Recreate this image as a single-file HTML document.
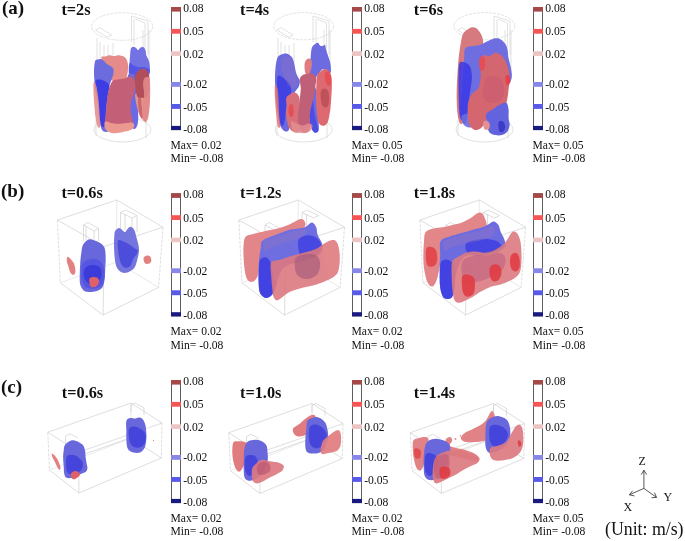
<!DOCTYPE html>
<html><head><meta charset="utf-8"><style>
html,body{margin:0;padding:0;background:#fff;}
body{width:685px;height:541px;overflow:hidden;position:relative;}
svg{position:absolute;left:0;top:0;will-change:transform;}
text{font-family:"Liberation Serif",serif;fill:#111;}
.cb{font-size:11.6px;}
.mm{font-size:11.6px;}
.tl{font-size:16.3px;font-weight:bold;}
.pl{font-size:19px;font-weight:bold;}
.ax{font-size:12px;}
.un{font-size:17.8px;}
</style></head><body>
<svg width="685" height="541" viewBox="0 0 685 541">
<defs><filter id="sb" x="-10%" y="-10%" width="120%" height="120%"><feGaussianBlur stdDeviation="0.45"/></filter></defs>
<g fill="none" stroke="#cfcfcf" stroke-width="0.6"><ellipse cx="122.2" cy="26.5" rx="30.5" ry="13.8" stroke-dasharray="3 1"/><ellipse cx="122.4" cy="129.5" rx="28.5" ry="12.5"/><path d="M131.5,16 V42 M131.5,16 L148,21 V55 M134,19 V45 M95.5,30 L100,27.7 L111.6,35 L107.2,37.2 Z M135.5,19 L145,23 V55 M97,38 V72 M100,42 V75 M104,45 V70 M108,45 V70 M113,43 V70 M143,30 V70 M149,30 V70 M96,120 V136 M146,116 V138"/></g>
<g filter="url(#sb)"><g transform="translate(80,40) scale(0.19410)"><path d="M110,88 C112.0,82.2 123.3,86.7 130,85 C136.7,83.3 142.5,78.5 150,78 C157.5,77.5 166.7,82.0 175,82 C183.3,82.0 191.7,77.5 200,78 C208.3,78.5 218.3,81.3 225,85 C231.7,88.7 236.2,92.5 240,100 C243.8,107.5 247.0,119.2 248,130 C249.0,140.8 247.3,155.0 246,165 C244.7,175.0 243.5,182.5 240,190 C236.5,197.5 231.7,205.3 225,210 C218.3,214.7 208.3,217.7 200,218 C191.7,218.3 183.3,215.0 175,212 C166.7,209.0 158.3,207.0 150,200 C141.7,193.0 130.3,183.3 125,170 C119.7,156.7 120.5,133.7 118,120 C115.5,106.3 108.0,93.8 110,88 Z" fill="#e68a8a" fill-opacity="1.0"/><path d="M78,108 C81.3,98.0 86.7,101.7 92,100 C97.3,98.3 104.5,96.3 110,98 C115.5,99.7 120.0,105.5 125,110 C130.0,114.5 133.7,120.3 140,125 C146.3,129.7 157.7,133.8 163,138 C168.3,142.2 170.5,143.8 172,150 C173.5,156.2 173.7,165.8 172,175 C170.3,184.2 165.3,195.0 162,205 C158.7,215.0 154.8,225.0 152,235 C149.2,245.0 147.0,254.2 145,265 C143.0,275.8 141.5,287.5 140,300 C138.5,312.5 137.0,326.7 136,340 C135.0,353.3 134.7,366.7 134,380 C133.3,393.3 129.3,407.5 132,420 C134.7,432.5 147.8,446.3 150,455 C152.2,463.7 150.0,469.5 145,472 C140.0,474.5 126.2,473.7 120,470 C113.8,466.3 111.3,460.0 108,450 C104.7,440.0 102.3,428.3 100,410 C97.7,391.7 96.7,361.7 94,340 C91.3,318.3 87.0,298.3 84,280 C81.0,261.7 78.0,250.0 76,230 C74.0,210.0 71.7,180.3 72,160 C72.3,139.7 74.7,118.0 78,108 Z" fill="#6c6cde" fill-opacity="1.0"/><path d="M80,210 C83.7,200.8 100.0,203.3 110,205 C120.0,206.7 133.0,214.2 140,220 C147.0,225.8 151.2,230.0 152,240 C152.8,250.0 147.3,265.0 145,280 C142.7,295.0 139.8,313.3 138,330 C136.2,346.7 135.0,363.3 134,380 C133.0,396.7 134.3,418.3 132,430 C129.7,441.7 124.3,450.0 120,450 C115.7,450.0 109.3,441.7 106,430 C102.7,418.3 101.7,398.3 100,380 C98.3,361.7 98.0,340.0 96,320 C94.0,300.0 90.7,278.3 88,260 C85.3,241.7 76.3,219.2 80,210 Z" fill="#3a3ae4" fill-opacity="0.9"/><path d="M70,220 C72.0,211.7 78.3,220.0 82,230 C85.7,240.0 89.3,261.7 92,280 C94.7,298.3 96.3,320.0 98,340 C99.7,360.0 100.7,383.3 102,400 C103.3,416.7 106.7,431.3 106,440 C105.3,448.7 101.0,452.0 98,452 C95.0,452.0 91.0,448.7 88,440 C85.0,431.3 82.3,416.7 80,400 C77.7,383.3 75.7,360.0 74,340 C72.3,320.0 70.7,300.0 70,280 C69.3,260.0 68.0,228.3 70,220 Z" fill="#e28888" fill-opacity="0.85"/><path d="M262,45 C264.8,37.5 270.3,35.5 275,35 C279.7,34.5 285.8,39.2 290,42 C294.2,44.8 296.3,52.7 300,52 C303.7,51.3 307.3,40.5 312,38 C316.7,35.5 323.7,34.2 328,37 C332.3,39.8 335.7,47.8 338,55 C340.3,62.2 339.7,72.5 342,80 C344.3,87.5 349.3,93.3 352,100 C354.7,106.7 356.7,111.7 358,120 C359.3,128.3 360.5,140.8 360,150 C359.5,159.2 360.0,171.7 355,175 C350.0,178.3 338.3,170.8 330,170 C321.7,169.2 311.7,168.7 305,170 C298.3,171.3 295.0,174.7 290,178 C285.0,181.3 280.0,186.3 275,190 C270.0,193.7 263.8,203.3 260,200 C256.2,196.7 252.8,183.3 252,170 C251.2,156.7 254.0,135.0 255,120 C256.0,105.0 256.8,92.5 258,80 C259.2,67.5 259.2,52.5 262,45 Z" fill="#7272e2" fill-opacity="1.0"/><path d="M255,120 C258.8,113.3 267.5,126.7 275,130 C282.5,133.3 290.8,138.3 300,140 C309.2,141.7 320.3,138.3 330,140 C339.7,141.7 353.8,143.3 358,150 C362.2,156.7 361.3,175.3 355,180 C348.7,184.7 330.8,177.2 320,178 C309.2,178.8 299.7,180.5 290,185 C280.3,189.5 268.3,207.5 262,205 C255.7,202.5 253.2,184.2 252,170 C250.8,155.8 251.2,126.7 255,120 Z" fill="#4e4ee6" fill-opacity="0.8"/><path d="M248,180 C252.5,169.2 268.0,171.7 275,175 C282.0,178.3 286.7,185.8 290,200 C293.3,214.2 293.7,238.3 295,260 C296.3,281.7 297.2,306.7 298,330 C298.8,353.3 300.5,381.7 300,400 C299.5,418.3 298.3,430.3 295,440 C291.7,449.7 285.5,457.7 280,458 C274.5,458.3 266.2,455.0 262,442 C257.8,429.0 256.7,403.7 255,380 C253.3,356.3 253.2,323.3 252,300 C250.8,276.7 248.7,260.0 248,240 C247.3,220.0 243.5,190.8 248,180 Z" fill="#6a6ae6" fill-opacity="1.0"/><path d="M285,280 C288.3,270.3 300.8,272.3 310,272 C319.2,271.7 331.7,275.0 340,278 C348.3,281.0 357.0,281.3 360,290 C363.0,298.7 359.3,315.0 358,330 C356.7,345.0 354.2,365.8 352,380 C349.8,394.2 347.8,408.0 345,415 C342.2,422.0 340.0,424.5 335,422 C330.0,419.5 320.8,408.7 315,400 C309.2,391.3 304.2,381.7 300,370 C295.8,358.3 292.5,345.0 290,330 C287.5,315.0 281.7,289.7 285,280 Z" fill="#e4928e" fill-opacity="1.0"/><path d="M282,190 C283.5,175.8 289.5,171.7 295,165 C300.5,158.3 308.3,152.5 315,150 C321.7,147.5 328.8,147.0 335,150 C341.2,153.0 348.2,159.7 352,168 C355.8,176.3 357.0,184.7 358,200 C359.0,215.3 360.2,244.7 358,260 C355.8,275.3 351.3,285.7 345,292 C338.7,298.3 328.2,298.0 320,298 C311.8,298.0 301.7,300.0 296,292 C290.3,284.0 288.3,267.0 286,250 C283.7,233.0 280.5,204.2 282,190 Z" fill="#b24e5a" fill-opacity="1.0"/><path d="M300,300 C302.0,292.7 309.0,289.3 312,296 C315.0,302.7 316.3,324.3 318,340 C319.7,355.7 322.3,379.2 322,390 C321.7,400.8 318.7,406.7 316,405 C313.3,403.3 308.7,390.8 306,380 C303.3,369.2 301.0,353.3 300,340 C299.0,326.7 298.0,307.3 300,300 Z" fill="#c05a60" fill-opacity="0.7"/><path d="M330,200 C333.3,193.3 340.3,190.0 345,190 C349.7,190.0 355.2,190.0 358,200 C360.8,210.0 361.7,230.0 362,250 C362.3,270.0 361.2,298.3 360,320 C358.8,341.7 357.5,364.2 355,380 C352.5,395.8 349.2,410.0 345,415 C340.8,420.0 333.8,417.5 330,410 C326.2,402.5 322.3,385.0 322,370 C321.7,355.0 326.7,336.7 328,320 C329.3,303.3 330.5,285.0 330,270 C329.5,255.0 325.0,241.7 325,230 C325.0,218.3 326.7,206.7 330,200 Z" fill="#e28a8a" fill-opacity="0.9"/><path d="M150,250 C154.2,235.8 159.2,222.5 165,215 C170.8,207.5 175.0,207.5 185,205 C195.0,202.5 214.2,202.8 225,200 C235.8,197.2 242.5,189.3 250,188 C257.5,186.7 264.7,188.3 270,192 C275.3,195.7 279.5,202.0 282,210 C284.5,218.0 285.3,229.2 285,240 C284.7,250.8 282.8,265.0 280,275 C277.2,285.0 271.0,290.8 268,300 C265.0,309.2 263.0,318.3 262,330 C261.0,341.7 261.0,358.3 262,370 C263.0,381.7 266.3,390.0 268,400 C269.7,410.0 273.0,421.3 272,430 C271.0,438.7 267.3,446.7 262,452 C256.7,457.3 248.7,459.0 240,462 C231.3,465.0 221.7,467.8 210,470 C198.3,472.2 181.7,475.8 170,475 C158.3,474.2 147.0,470.8 140,465 C133.0,459.2 129.7,450.8 128,440 C126.3,429.2 128.8,415.0 130,400 C131.2,385.0 133.3,366.7 135,350 C136.7,333.3 137.5,316.7 140,300 C142.5,283.3 145.8,264.2 150,250 Z" fill="#c45e78" fill-opacity="1.0"/><path d="M130,420 C135.3,416.0 148.3,426.0 160,428 C171.7,430.0 186.7,432.0 200,432 C213.3,432.0 228.7,429.2 240,428 C251.3,426.8 261.3,423.3 268,425 C274.7,426.7 279.3,432.8 280,438 C280.7,443.2 277.0,451.0 272,456 C267.0,461.0 260.3,464.7 250,468 C239.7,471.3 223.3,474.0 210,476 C196.7,478.0 180.8,480.7 170,480 C159.2,479.3 152.0,476.7 145,472 C138.0,467.3 130.5,460.7 128,452 C125.5,443.3 124.7,424.0 130,420 Z" fill="#ea9890" fill-opacity="1.0"/></g></g>
<g fill="none" stroke="#cfcfcf" stroke-width="0.6"><ellipse cx="303.7" cy="26.2" rx="30" ry="13.6" stroke-dasharray="3 1"/><ellipse cx="303.7" cy="129.5" rx="28.5" ry="12.5"/><path d="M313,16 V42 M313,16 L329,21 V55 M316,19 V45 M277,30 L281.5,27.7 L293.1,35 L288.7,37.2 Z M317,19 L326.5,23 V55 M278,38 V72 M281,42 V75 M285,45 V70 M289,45 V70 M294,43 V70 M324,30 V70 M330,30 V70 M277,120 V136 M327,116 V138"/></g>
<g filter="url(#sb)"><g transform="translate(261,40) scale(0.19410)"><path d="M85,90 C90.0,79.2 97.5,78.3 105,75 C112.5,71.7 122.5,69.2 130,70 C137.5,70.8 144.2,75.0 150,80 C155.8,85.0 160.8,90.0 165,100 C169.2,110.0 172.5,128.3 175,140 C177.5,151.7 177.5,161.7 180,170 C182.5,178.3 186.7,183.3 190,190 C193.3,196.7 199.2,201.7 200,210 C200.8,218.3 198.3,231.7 195,240 C191.7,248.3 185.0,253.3 180,260 C175.0,266.7 170.0,273.3 165,280 C160.0,286.7 154.2,291.7 150,300 C145.8,308.3 142.5,316.7 140,330 C137.5,343.3 135.0,365.0 135,380 C135.0,395.0 138.3,406.7 140,420 C141.7,433.3 146.7,451.3 145,460 C143.3,468.7 135.8,472.0 130,472 C124.2,472.0 115.8,467.0 110,460 C104.2,453.0 98.7,443.3 95,430 C91.3,416.7 90.5,396.7 88,380 C85.5,363.3 82.2,348.3 80,330 C77.8,311.7 76.3,291.7 75,270 C73.7,248.3 72.0,221.7 72,200 C72.0,178.3 72.8,158.3 75,140 C77.2,121.7 80.0,100.8 85,90 Z" fill="#6a6ade" fill-opacity="1.0"/><path d="M85,190 C90.8,173.3 109.2,193.3 120,200 C130.8,206.7 144.2,218.3 150,230 C155.8,241.7 156.7,258.3 155,270 C153.3,281.7 144.2,286.7 140,300 C135.8,313.3 132.5,333.3 130,350 C127.5,366.7 127.5,385.0 125,400 C122.5,415.0 119.2,435.0 115,440 C110.8,445.0 104.2,440.0 100,430 C95.8,420.0 92.5,401.7 90,380 C87.5,358.3 85.8,331.7 85,300 C84.2,268.3 79.2,206.7 85,190 Z" fill="#3c3ce4" fill-opacity="0.85"/><path d="M110,95 C115.8,85.8 131.7,83.3 140,85 C148.3,86.7 154.2,94.2 160,105 C165.8,115.8 170.0,135.0 175,150 C180.0,165.0 188.3,180.8 190,195 C191.7,209.2 189.2,225.8 185,235 C180.8,244.2 172.5,250.8 165,250 C157.5,249.2 147.5,240.0 140,230 C132.5,220.0 125.8,205.0 120,190 C114.2,175.0 106.7,155.8 105,140 C103.3,124.2 104.2,104.2 110,95 Z" fill="#9070c0" fill-opacity="0.4"/><path d="M72,230 C74.2,221.7 82.0,238.3 85,250 C88.0,261.7 88.8,283.3 90,300 C91.2,316.7 91.2,333.3 92,350 C92.8,366.7 93.7,385.0 95,400 C96.3,415.0 100.0,431.3 100,440 C100.0,448.7 97.5,452.0 95,452 C92.5,452.0 87.8,452.0 85,440 C82.2,428.0 80.2,403.3 78,380 C75.8,356.7 73.0,325.0 72,300 C71.0,275.0 69.8,238.3 72,230 Z" fill="#e07474" fill-opacity="0.85"/><path d="M262,40 C266.2,26.7 274.5,24.2 280,20 C285.5,15.8 290.8,13.3 295,15 C299.2,16.7 300.8,27.5 305,30 C309.2,32.5 315.8,30.8 320,30 C324.2,29.2 327.5,21.7 330,25 C332.5,28.3 332.5,40.8 335,50 C337.5,59.2 341.7,70.0 345,80 C348.3,90.0 352.5,100.0 355,110 C357.5,120.0 359.5,130.0 360,140 C360.5,150.0 361.3,166.7 358,170 C354.7,173.3 346.3,163.3 340,160 C333.7,156.7 326.7,148.3 320,150 C313.3,151.7 305.8,163.3 300,170 C294.2,176.7 289.2,181.7 285,190 C280.8,198.3 277.5,208.3 275,220 C272.5,231.7 271.2,246.7 270,260 C268.8,273.3 267.7,285.0 268,300 C268.3,315.0 270.0,333.3 272,350 C274.0,366.7 277.0,385.0 280,400 C283.0,415.0 287.5,428.3 290,440 C292.5,451.7 297.5,464.0 295,470 C292.5,476.0 281.2,479.3 275,476 C268.8,472.7 262.5,462.7 258,450 C253.5,437.3 251.0,418.3 248,400 C245.0,381.7 241.7,360.0 240,340 C238.3,320.0 237.7,300.0 238,280 C238.3,260.0 240.0,240.0 242,220 C244.0,200.0 247.8,180.0 250,160 C252.2,140.0 253.0,120.0 255,100 C257.0,80.0 257.8,53.3 262,40 Z" fill="#6c6ce0" fill-opacity="1.0"/><path d="M255,240 C258.7,225.0 265.0,226.7 270,230 C275.0,233.3 281.7,245.0 285,260 C288.3,275.0 288.8,300.0 290,320 C291.2,340.0 290.7,360.0 292,380 C293.3,400.0 297.5,425.0 298,440 C298.5,455.0 298.8,464.0 295,470 C291.2,476.0 281.2,479.3 275,476 C268.8,472.7 262.2,462.7 258,450 C253.8,437.3 251.7,421.7 250,400 C248.3,378.3 247.2,346.7 248,320 C248.8,293.3 251.3,255.0 255,240 Z" fill="#4646e4" fill-opacity="0.8"/><path d="M225,120 C226.5,110.0 231.2,104.2 235,100 C238.8,95.8 243.8,94.2 248,95 C252.2,95.8 257.7,99.2 260,105 C262.3,110.8 262.8,120.8 262,130 C261.2,139.2 257.8,152.0 255,160 C252.2,168.0 248.3,174.3 245,178 C241.7,181.7 238.2,185.0 235,182 C231.8,179.0 227.7,170.3 226,160 C224.3,149.7 223.5,130.0 225,120 Z" fill="#e07c80" fill-opacity="1.0"/><path d="M130,300 C133.0,290.0 142.5,285.0 150,280 C157.5,275.0 167.5,268.3 175,270 C182.5,271.7 190.8,280.0 195,290 C199.2,300.0 199.2,315.0 200,330 C200.8,345.0 199.2,365.0 200,380 C200.8,395.0 203.3,406.7 205,420 C206.7,433.3 212.5,450.7 210,460 C207.5,469.3 197.5,474.0 190,476 C182.5,478.0 172.5,476.0 165,472 C157.5,468.0 150.0,460.7 145,452 C140.0,443.3 137.8,432.0 135,420 C132.2,408.0 128.5,393.3 128,380 C127.5,366.7 131.7,353.3 132,340 C132.3,326.7 127.0,310.0 130,300 Z" fill="#d8707a" fill-opacity="1.0"/><path d="M145,340 C148.0,333.3 156.2,326.7 160,330 C163.8,333.3 167.2,350.0 168,360 C168.8,370.0 168.0,384.2 165,390 C162.0,395.8 153.8,398.3 150,395 C146.2,391.7 142.8,379.2 142,370 C141.2,360.8 142.0,346.7 145,340 Z" fill="#e84a50" fill-opacity="0.9"/><path d="M290,180 C294.2,166.7 303.3,165.0 310,160 C316.7,155.0 323.3,150.0 330,150 C336.7,150.0 344.7,153.3 350,160 C355.3,166.7 359.5,176.7 362,190 C364.5,203.3 365.0,221.7 365,240 C365.0,258.3 363.2,281.7 362,300 C360.8,318.3 360.0,333.3 358,350 C356.0,366.7 353.0,386.7 350,400 C347.0,413.3 345.0,423.0 340,430 C335.0,437.0 326.7,441.7 320,442 C313.3,442.3 305.0,439.0 300,432 C295.0,425.0 292.5,413.7 290,400 C287.5,386.3 286.2,366.7 285,350 C283.8,333.3 283.0,318.3 283,300 C283.0,281.7 283.8,260.0 285,240 C286.2,220.0 285.8,193.3 290,180 Z" fill="#dc6a70" fill-opacity="1.0"/><path d="M310,260 C313.7,251.7 323.7,248.3 330,250 C336.3,251.7 344.7,258.3 348,270 C351.3,281.7 351.3,307.5 350,320 C348.7,332.5 345.3,341.7 340,345 C334.7,348.3 323.3,347.5 318,340 C312.7,332.5 309.3,313.3 308,300 C306.7,286.7 306.3,268.3 310,260 Z" fill="#b84c56" fill-opacity="0.85"/><path d="M330,170 C333.0,162.5 344.7,161.7 350,165 C355.3,168.3 360.3,179.2 362,190 C363.7,200.8 362.8,222.5 360,230 C357.2,237.5 349.7,238.3 345,235 C340.3,231.7 334.5,220.8 332,210 C329.5,199.2 327.0,177.5 330,170 Z" fill="#e84a50" fill-opacity="0.8"/><path d="M200,200 C201.7,188.3 209.2,184.2 215,180 C220.8,175.8 228.3,176.7 235,175 C241.7,173.3 248.3,169.2 255,170 C261.7,170.8 270.0,175.0 275,180 C280.0,185.0 284.2,190.0 285,200 C285.8,210.0 281.7,226.7 280,240 C278.3,253.3 277.5,266.7 275,280 C272.5,293.3 268.3,306.7 265,320 C261.7,333.3 257.5,346.7 255,360 C252.5,373.3 250.0,386.7 250,400 C250.0,413.3 255.8,428.3 255,440 C254.2,451.7 250.0,463.7 245,470 C240.0,476.3 231.7,478.0 225,478 C218.3,478.0 210.0,476.3 205,470 C200.0,463.7 197.5,451.7 195,440 C192.5,428.3 190.0,415.0 190,400 C190.0,385.0 193.3,366.7 195,350 C196.7,333.3 198.3,316.7 200,300 C201.7,283.3 205.0,266.7 205,250 C205.0,233.3 198.3,211.7 200,200 Z" fill="#c06078" fill-opacity="1.0"/><path d="M155,420 C158.3,413.3 175.0,426.7 185,430 C195.0,433.3 205.0,440.0 215,440 C225.0,440.0 236.7,430.0 245,430 C253.3,430.0 263.3,433.7 265,440 C266.7,446.3 261.7,461.3 255,468 C248.3,474.7 235.8,478.3 225,480 C214.2,481.7 200.0,479.7 190,478 C180.0,476.3 170.8,479.7 165,470 C159.2,460.3 151.7,426.7 155,420 Z" fill="#e49092" fill-opacity="0.8"/></g></g>
<g fill="none" stroke="#cfcfcf" stroke-width="0.6"><ellipse cx="484.4" cy="26.2" rx="30.5" ry="13.6" stroke-dasharray="3 1"/><ellipse cx="484.6" cy="129.5" rx="28.5" ry="12.5"/><path d="M494,16 V42 M494,16 L510,21 V55 M497,19 V45 M457.7,30 L462.2,27.7 L473.8,35 L469.4,37.2 Z M498,19 L507.5,23 V55 M505,30 V70 M511,30 V70 M458,120 V136 M508,116 V138"/></g>
<g filter="url(#sb)"><g transform="translate(442,25) scale(0.22183)"><path d="M95,40 C100.0,30.0 108.3,25.0 115,20 C121.7,15.0 128.3,10.8 135,10 C141.7,9.2 148.3,10.0 155,15 C161.7,20.0 170.0,30.8 175,40 C180.0,49.2 184.2,60.0 185,70 C185.8,80.0 185.8,93.3 180,100 C174.2,106.7 160.0,106.7 150,110 C140.0,113.3 127.5,113.3 120,120 C112.5,126.7 109.2,136.7 105,150 C100.8,163.3 97.5,181.7 95,200 C92.5,218.3 91.7,238.3 90,260 C88.3,281.7 85.3,306.7 85,330 C84.7,353.3 86.3,381.7 88,400 C89.7,418.3 96.3,433.0 95,440 C93.7,447.0 84.2,448.7 80,442 C75.8,435.3 72.3,418.7 70,400 C67.7,381.3 66.3,355.0 66,330 C65.7,305.0 66.5,280.0 68,250 C69.5,220.0 72.2,178.3 75,150 C77.8,121.7 81.7,98.3 85,80 C88.3,61.7 90.0,50.0 95,40 Z" fill="#d67a80" fill-opacity="1.0"/><path d="M105,105 C111.7,95.8 129.2,97.5 140,95 C150.8,92.5 160.0,93.3 170,90 C180.0,86.7 188.3,80.0 200,75 C211.7,70.0 229.2,61.7 240,60 C250.8,58.3 257.5,60.8 265,65 C272.5,69.2 280.0,77.5 285,85 C290.0,92.5 292.5,99.2 295,110 C297.5,120.8 297.5,136.7 300,150 C302.5,163.3 307.5,176.7 310,190 C312.5,203.3 315.8,218.0 315,230 C314.2,242.0 309.2,258.7 305,262 C300.8,265.3 297.5,257.0 290,250 C282.5,243.0 270.0,230.0 260,220 C250.0,210.0 240.0,198.3 230,190 C220.0,181.7 206.7,170.8 200,170 C193.3,169.2 192.5,176.7 190,185 C187.5,193.3 186.7,207.5 185,220 C183.3,232.5 182.5,248.3 180,260 C177.5,271.7 175.0,280.0 170,290 C165.0,300.0 157.5,308.3 150,320 C142.5,331.7 130.8,346.7 125,360 C119.2,373.3 117.5,386.7 115,400 C112.5,413.3 113.3,433.0 110,440 C106.7,447.0 99.2,448.7 95,442 C90.8,435.3 86.7,417.0 85,400 C83.3,383.0 84.2,361.7 85,340 C85.8,318.3 88.3,293.3 90,270 C91.7,246.7 93.3,220.0 95,200 C96.7,180.0 98.3,165.8 100,150 C101.7,134.2 98.3,114.2 105,105 Z" fill="#6e6ee0" fill-opacity="1.0"/><path d="M78,175 C82.3,161.3 92.2,166.3 100,168 C107.8,169.7 119.2,174.7 125,185 C130.8,195.3 134.2,214.2 135,230 C135.8,245.8 132.2,263.3 130,280 C127.8,296.7 124.0,313.3 122,330 C120.0,346.7 119.7,365.0 118,380 C116.3,395.0 115.8,411.3 112,420 C108.2,428.7 100.3,433.7 95,432 C89.7,430.3 83.3,427.0 80,410 C76.7,393.0 76.0,356.7 75,330 C74.0,303.3 73.5,275.8 74,250 C74.5,224.2 73.7,188.7 78,175 Z" fill="#3a3ae6" fill-opacity="0.85"/><path d="M88,410 C91.3,401.3 109.7,398.3 120,400 C130.3,401.7 144.2,411.7 150,420 C155.8,428.3 158.3,443.0 155,450 C151.7,457.0 139.2,461.7 130,462 C120.8,462.3 107.0,460.7 100,452 C93.0,443.3 84.7,418.7 88,410 Z" fill="#6a6ae0" fill-opacity="0.9"/><path d="M170,150 C173.7,142.5 182.5,136.7 190,135 C197.5,133.3 206.7,141.7 215,140 C223.3,138.3 231.7,125.8 240,125 C248.3,124.2 257.5,129.2 265,135 C272.5,140.8 279.2,149.2 285,160 C290.8,170.8 296.7,186.7 300,200 C303.3,213.3 305.0,225.0 305,240 C305.0,255.0 301.7,275.0 300,290 C298.3,305.0 297.5,318.3 295,330 C292.5,341.7 290.8,353.3 285,360 C279.2,366.7 267.5,366.7 260,370 C252.5,373.3 246.7,375.0 240,380 C233.3,385.0 226.7,391.7 220,400 C213.3,408.3 207.5,419.2 200,430 C192.5,440.8 184.2,458.0 175,465 C165.8,472.0 153.8,475.3 145,472 C136.2,468.7 126.8,457.0 122,445 C117.2,433.0 116.7,415.8 116,400 C115.3,384.2 114.8,365.0 118,350 C121.2,335.0 128.8,319.2 135,310 C141.2,300.8 149.5,300.8 155,295 C160.5,289.2 164.7,287.5 168,275 C171.3,262.5 175.0,235.8 175,220 C175.0,204.2 168.8,191.7 168,180 C167.2,168.3 166.3,157.5 170,150 Z" fill="#d46670" fill-opacity="1.0"/><path d="M170,150 C173.3,143.7 183.8,138.7 188,142 C192.2,145.3 194.7,160.3 195,170 C195.3,179.7 193.3,194.2 190,200 C186.7,205.8 178.7,208.3 175,205 C171.3,201.7 168.8,189.2 168,180 C167.2,170.8 166.7,156.3 170,150 Z" fill="#e84a50" fill-opacity="0.85"/><path d="M288,230 C290.3,224.3 298.7,223.8 302,228 C305.3,232.2 308.7,247.7 308,255 C307.3,262.3 301.3,270.8 298,272 C294.7,273.2 289.7,269.0 288,262 C286.3,255.0 285.7,235.7 288,230 Z" fill="#e83c44" fill-opacity="0.9"/><path d="M200,240 C209.2,230.0 228.3,228.3 240,230 C251.7,231.7 263.3,238.3 270,250 C276.7,261.7 281.7,285.0 280,300 C278.3,315.0 270.0,331.7 260,340 C250.0,348.3 231.7,351.7 220,350 C208.3,348.3 195.8,340.0 190,330 C184.2,320.0 183.3,305.0 185,290 C186.7,275.0 190.8,250.0 200,240 Z" fill="#c85a70" fill-opacity="0.6"/><path d="M200,400 C205.0,391.7 220.0,386.7 230,380 C240.0,373.3 250.0,365.0 260,360 C270.0,355.0 283.3,346.7 290,350 C296.7,353.3 298.3,368.3 300,380 C301.7,391.7 299.2,408.3 300,420 C300.8,431.7 305.8,440.0 305,450 C304.2,460.0 300.8,472.3 295,480 C289.2,487.7 279.2,493.3 270,496 C260.8,498.7 249.2,497.7 240,496 C230.8,494.3 220.8,492.0 215,486 C209.2,480.0 207.5,469.3 205,460 C202.5,450.7 200.8,440.0 200,430 C199.2,420.0 195.0,408.3 200,400 Z" fill="#6464de" fill-opacity="1.0"/><path d="M255,440 C257.8,432.8 270.0,431.7 275,435 C280.0,438.3 285.0,452.2 285,460 C285.0,467.8 279.5,479.0 275,482 C270.5,485.0 261.3,485.0 258,478 C254.7,471.0 252.2,447.2 255,440 Z" fill="#3030c0" fill-opacity="0.8"/><path d="M185,440 C186.3,433.7 195.0,431.2 200,432 C205.0,432.8 213.0,439.0 215,445 C217.0,451.0 215.8,463.8 212,468 C208.2,472.2 196.5,474.7 192,470 C187.5,465.3 183.7,446.3 185,440 Z" fill="#e49092" fill-opacity="1.0"/></g></g>
<g fill="none" stroke="#c8c8c8" stroke-width="0.6"><path d="M57.4,220 L116.8,200 L163,227.2 L104,246.5 Z M104,246.5 L103.1,315.1 M60.4,282.8 L103.1,315.1 L158.6,287.4"/><path d="M57.4,220 L60.4,282.8 M163,227.2 L158.6,287.4" stroke-dasharray="3 1.2"/><path d="M116.8,200 L116.5,262 M60.4,282.8 L116.5,262 L158.6,287.4" stroke="#dadada"/></g>
<g fill="none" stroke="#c8c8c8" stroke-width="0.6"><path d="M83.5,225 L88,222.5 L98.5,228.5 L94,231 Z M83.5,225 V241 M86,226 V240 M94,231 V243 M98.5,228.5 V241 M120.5,212.5 L125.5,210 L137,215.5 L132,218 Z M120.5,212.5 V230 M125,214 V230 M132,218 V232 M137,215.5 V232"/></g>
<g filter="url(#sb)"><g transform="translate(50,195) scale(0.23105)"><path d="M75,268 C77.8,266.3 85.0,272.7 90,278 C95.0,283.3 101.7,291.3 105,300 C108.3,308.7 110.5,322.3 110,330 C109.5,337.7 105.7,345.2 102,346 C98.3,346.8 91.7,341.0 88,335 C84.3,329.0 82.5,317.8 80,310 C77.5,302.2 73.8,295.0 73,288 C72.2,281.0 72.2,269.7 75,268 Z" fill="#e07272" fill-opacity="0.9"/><path d="M405,272 C406.7,266.7 415.0,262.7 420,262 C425.0,261.3 432.0,263.7 435,268 C438.0,272.3 439.5,283.0 438,288 C436.5,293.0 430.7,297.0 426,298 C421.3,299.0 413.5,298.3 410,294 C406.5,289.7 403.3,277.3 405,272 Z" fill="#e07272" fill-opacity="0.9"/><path d="M142,218 C145.5,210.0 152.2,203.3 157,199 C161.8,194.7 165.5,192.5 171,192 C176.5,191.5 182.7,193.5 190,196 C197.3,198.5 208.0,202.7 215,207 C222.0,211.3 228.0,216.3 232,222 C236.0,227.7 237.5,232.2 239,241 C240.5,249.8 241.0,261.8 241,275 C241.0,288.2 239.7,306.0 239,320 C238.3,334.0 238.2,347.8 237,359 C235.8,370.2 234.7,379.2 232,387 C229.3,394.8 226.5,401.0 221,406 C215.5,411.0 207.3,414.7 199,417 C190.7,419.3 179.3,420.3 171,420 C162.7,419.7 155.0,418.7 149,415 C143.0,411.3 138.3,404.7 135,398 C131.7,391.3 130.0,385.3 129,375 C128.0,364.7 128.7,350.0 129,336 C129.3,322.0 129.8,305.8 131,291 C132.2,276.2 134.2,259.2 136,247 C137.8,234.8 138.5,226.0 142,218 Z" fill="#6868dc" fill-opacity="1.0"/><path d="M140,300 C144.0,292.0 151.7,286.0 160,282 C168.3,278.0 180.8,275.5 190,276 C199.2,276.5 208.0,279.3 215,285 C222.0,290.7 228.5,299.2 232,310 C235.5,320.8 236.7,337.5 236,350 C235.3,362.5 233.2,376.3 228,385 C222.8,393.7 213.8,398.7 205,402 C196.2,405.3 184.2,406.2 175,405 C165.8,403.8 156.2,401.7 150,395 C143.8,388.3 140.3,375.8 138,365 C135.7,354.2 135.7,340.8 136,330 C136.3,319.2 136.0,308.0 140,300 Z" fill="#5252e2" fill-opacity="0.85"/><path d="M150,320 C154.0,313.3 161.7,307.5 170,305 C178.3,302.5 191.7,302.5 200,305 C208.3,307.5 216.3,311.7 220,320 C223.7,328.3 224.5,345.3 222,355 C219.5,364.7 212.3,373.0 205,378 C197.7,383.0 186.3,386.0 178,385 C169.7,384.0 160.3,378.7 155,372 C149.7,365.3 146.8,353.7 146,345 C145.2,336.3 146.0,326.7 150,320 Z" fill="#3434d8" fill-opacity="0.8"/><path d="M170,365 C171.3,358.2 178.5,356.3 184,355 C189.5,353.7 198.3,354.5 203,357 C207.7,359.5 211.2,364.8 212,370 C212.8,375.2 211.2,383.3 208,388 C204.8,392.7 198.3,396.7 193,398 C187.7,399.3 179.8,401.5 176,396 C172.2,390.5 168.7,371.8 170,365 Z" fill="#e06068" fill-opacity="1.0"/><path d="M282,156 C285.7,149.3 294.2,143.0 300,143 C305.8,143.0 312.7,153.2 317,156 C321.3,158.8 322.3,162.2 326,160 C329.7,157.8 334.7,146.7 339,143 C343.3,139.3 347.7,136.5 352,138 C356.3,139.5 361.3,144.5 365,152 C368.7,159.5 371.0,172.0 374,183 C377.0,194.0 381.2,207.8 383,218 C384.8,228.2 385.7,234.5 385,244 C384.3,253.5 381.5,264.7 379,275 C376.5,285.3 373.7,297.8 370,306 C366.3,314.2 362.2,319.3 357,324 C351.8,328.7 345.7,331.8 339,334 C332.3,336.2 323.5,338.0 317,337 C310.5,336.0 305.2,333.2 300,328 C294.8,322.8 289.3,315.5 286,306 C282.7,296.5 281.5,285.7 280,271 C278.5,256.3 277.3,232.7 277,218 C276.7,203.3 277.2,193.3 278,183 C278.8,172.7 278.3,162.7 282,156 Z" fill="#7474de" fill-opacity="1.0"/><path d="M295,196 C300.2,190.2 317.2,201.3 326,205 C334.8,208.7 341.5,213.7 348,218 C354.5,222.3 359.8,227.3 365,231 C370.2,234.7 377.5,235.5 379,240 C380.5,244.5 377.0,252.2 374,258 C371.0,263.8 365.3,267.0 361,275 C356.7,283.0 353.2,299.3 348,306 C342.8,312.7 335.8,315.0 330,315 C324.2,315.0 317.7,311.8 313,306 C308.3,300.2 305.0,291.0 302,280 C299.0,269.0 296.2,254.0 295,240 C293.8,226.0 289.8,201.8 295,196 Z" fill="#4646dc" fill-opacity="0.85"/></g></g>
<g fill="none" stroke="#c8c8c8" stroke-width="0.6"><path d="M238.9,220 L298.3,200 L344.5,227.2 L285.5,246.5 Z M285.5,246.5 L284.6,315.1 M241.9,282.8 L284.6,315.1 L340.1,287.4"/><path d="M238.9,220 L241.9,282.8 M344.5,227.2 L340.1,287.4" stroke-dasharray="3 1.2"/><path d="M298.3,200 L298.0,262 M241.9,282.8 L298.0,262 L340.1,287.4" stroke="#dadada"/></g>
<g fill="none" stroke="#c8c8c8" stroke-width="0.6" transform="translate(181.5,0)"><path d="M83.5,225 L88,222.5 L98.5,228.5 L94,231 Z M83.5,225 V241 M120.5,212.5 L125.5,210 L137,215.5 L132,218 Z M120.5,212.5 V230 M125,214 V230"/></g>
<g filter="url(#sb)"><g transform="translate(225,195) scale(0.23105)"><path d="M88,182 C95.2,172.7 109.2,173.2 123,169 C136.8,164.8 153.7,161.0 171,157 C188.3,153.0 208.3,150.3 227,145 C245.7,139.7 267.0,131.7 283,125 C299.0,118.3 313.2,107.5 323,105 C332.8,102.5 337.8,105.8 342,110 C346.2,114.2 349.2,123.0 348,130 C346.8,137.0 343.0,145.3 335,152 C327.0,158.7 314.2,163.7 300,170 C285.8,176.3 266.7,183.3 250,190 C233.3,196.7 214.2,203.0 200,210 C185.8,217.0 172.5,222.0 165,232 C157.5,242.0 157.8,255.3 155,270 C152.2,284.7 150.8,305.3 148,320 C145.2,334.7 143.0,348.7 138,358 C133.0,367.3 124.7,374.3 118,376 C111.3,377.7 103.2,374.8 98,368 C92.8,361.2 89.8,349.7 87,335 C84.2,320.3 82.2,298.3 81,280 C79.8,261.7 78.8,241.3 80,225 C81.2,208.7 80.8,191.3 88,182 Z" fill="#e3868a" fill-opacity="1.0"/><path d="M160,200 C167.5,191.7 186.7,185.8 200,180 C213.3,174.2 226.7,170.0 240,165 C253.3,160.0 266.7,153.3 280,150 C293.3,146.7 309.2,146.7 320,145 C330.8,143.3 337.5,143.3 345,140 C352.5,136.7 359.2,128.3 365,125 C370.8,121.7 375.0,117.5 380,120 C385.0,122.5 391.7,131.7 395,140 C398.3,148.3 397.5,161.7 400,170 C402.5,178.3 406.7,183.3 410,190 C413.3,196.7 418.3,201.7 420,210 C421.7,218.3 423.3,231.3 420,240 C416.7,248.7 410.0,255.3 400,262 C390.0,268.7 373.3,275.3 360,280 C346.7,284.7 333.3,286.7 320,290 C306.7,293.3 291.7,295.0 280,300 C268.3,305.0 258.3,310.0 250,320 C241.7,330.0 235.0,346.7 230,360 C225.0,373.3 224.2,388.3 220,400 C215.8,411.7 210.8,422.5 205,430 C199.2,437.5 191.7,443.3 185,445 C178.3,446.7 170.8,444.2 165,440 C159.2,435.8 153.3,430.0 150,420 C146.7,410.0 145.8,396.7 145,380 C144.2,363.3 144.2,340.0 145,320 C145.8,300.0 148.3,275.0 150,260 C151.7,245.0 153.3,240.0 155,230 C156.7,220.0 152.5,208.3 160,200 Z" fill="#6e6ee0" fill-opacity="1.0"/><path d="M152,280 C157.5,271.7 172.0,266.7 180,270 C188.0,273.3 195.0,286.7 200,300 C205.0,313.3 207.5,333.3 210,350 C212.5,366.7 215.8,386.7 215,400 C214.2,413.3 210.0,422.5 205,430 C200.0,437.5 191.7,443.3 185,445 C178.3,446.7 170.8,444.2 165,440 C159.2,435.8 153.2,431.7 150,420 C146.8,408.3 146.5,386.7 146,370 C145.5,353.3 146.0,335.0 147,320 C148.0,305.0 146.5,288.3 152,280 Z" fill="#3c3ce2" fill-opacity="0.85"/><path d="M320,190 C325.3,180.0 339.2,176.7 350,175 C360.8,173.3 375.0,175.8 385,180 C395.0,184.2 405.0,190.8 410,200 C415.0,209.2 417.5,225.3 415,235 C412.5,244.7 404.2,252.2 395,258 C385.8,263.8 370.8,268.8 360,270 C349.2,271.2 337.0,270.8 330,265 C323.0,259.2 319.7,247.5 318,235 C316.3,222.5 314.7,200.0 320,190 Z" fill="#3c3ce2" fill-opacity="0.8"/><path d="M165,205 C170.8,195.8 194.2,191.2 210,185 C225.8,178.8 245.0,173.0 260,168 C275.0,163.0 287.5,158.3 300,155 C312.5,151.7 326.7,148.8 335,148 C343.3,147.2 349.2,144.7 350,150 C350.8,155.3 348.3,172.5 340,180 C331.7,187.5 315.0,190.0 300,195 C285.0,200.0 265.0,205.0 250,210 C235.0,215.0 222.5,220.0 210,225 C197.5,230.0 182.5,243.3 175,240 C167.5,236.7 159.2,214.2 165,205 Z" fill="#9070c0" fill-opacity="0.4"/><path d="M200,292 C206.7,280.3 226.7,284.3 240,280 C253.3,275.7 266.7,270.2 280,266 C293.3,261.8 306.7,258.5 320,255 C333.3,251.5 346.7,249.2 360,245 C373.3,240.8 388.3,235.8 400,230 C411.7,224.2 420.0,215.7 430,210 C440.0,204.3 451.7,197.7 460,196 C468.3,194.3 474.7,194.3 480,200 C485.3,205.7 489.3,216.7 492,230 C494.7,243.3 496.3,263.3 496,280 C495.7,296.7 494.3,317.5 490,330 C485.7,342.5 478.3,348.3 470,355 C461.7,361.7 451.7,364.8 440,370 C428.3,375.2 413.3,381.7 400,386 C386.7,390.3 373.3,392.7 360,396 C346.7,399.3 333.3,402.0 320,406 C306.7,410.0 291.7,414.3 280,420 C268.3,425.7 259.0,434.0 250,440 C241.0,446.0 232.7,456.0 226,456 C219.3,456.0 213.7,449.3 210,440 C206.3,430.7 205.7,415.0 204,400 C202.3,385.0 200.7,368.0 200,350 C199.3,332.0 193.3,303.7 200,292 Z" fill="#dc7880" fill-opacity="0.9"/><path d="M305,275 C309.7,266.7 319.2,263.3 330,260 C340.8,256.7 358.3,254.2 370,255 C381.7,255.8 393.0,257.5 400,265 C407.0,272.5 411.7,287.5 412,300 C412.3,312.5 408.2,330.0 402,340 C395.8,350.0 385.3,356.3 375,360 C364.7,363.7 350.5,364.5 340,362 C329.5,359.5 318.3,353.7 312,345 C305.7,336.3 303.2,321.7 302,310 C300.8,298.3 300.3,283.3 305,275 Z" fill="#a0587a" fill-opacity="0.6"/><path d="M430,215 C435.3,205.5 451.3,200.2 460,198 C468.7,195.8 476.3,195.8 482,202 C487.7,208.2 491.7,221.2 494,235 C496.3,248.8 497.0,269.2 496,285 C495.0,300.8 492.7,318.8 488,330 C483.3,341.2 475.2,349.0 468,352 C460.8,355.0 450.5,356.7 445,348 C439.5,339.3 437.8,315.5 435,300 C432.2,284.5 428.8,269.2 428,255 C427.2,240.8 424.7,224.5 430,215 Z" fill="#e48a8c" fill-opacity="0.7"/></g></g>
<g fill="none" stroke="#c8c8c8" stroke-width="0.6"><path d="M419.9,220 L479.3,200 L525.5,227.2 L466.5,246.5 Z M466.5,246.5 L465.6,315.1 M422.9,282.8 L465.6,315.1 L521.1,287.4"/><path d="M419.9,220 L422.9,282.8 M525.5,227.2 L521.1,287.4" stroke-dasharray="3 1.2"/><path d="M479.3,200 L479.0,262 M422.9,282.8 L479.0,262 L521.1,287.4" stroke="#dadada"/></g>
<g fill="none" stroke="#c8c8c8" stroke-width="0.6" transform="translate(362.5,0)"><path d="M83.5,225 L88,222.5 L98.5,228.5 L94,231 Z M83.5,225 V241 M120.5,212.5 L125.5,210 L137,215.5 L132,218 Z M120.5,212.5 V230 M125,214 V230"/></g>
<g filter="url(#sb)"><g transform="translate(406,195) scale(0.23105)"><path d="M85,160 C92.0,150.8 107.5,148.3 120,145 C132.5,141.7 146.7,142.5 160,140 C173.3,137.5 186.7,133.3 200,130 C213.3,126.7 226.7,125.0 240,120 C253.3,115.0 268.3,107.0 280,100 C291.7,93.0 301.7,81.3 310,78 C318.3,74.7 324.2,74.7 330,80 C335.8,85.3 341.7,100.0 345,110 C348.3,120.0 350.8,131.3 350,140 C349.2,148.7 348.3,155.7 340,162 C331.7,168.3 315.0,173.0 300,178 C285.0,183.0 266.7,186.7 250,192 C233.3,197.3 213.7,202.3 200,210 C186.3,217.7 176.0,226.3 168,238 C160.0,249.7 156.3,264.7 152,280 C147.7,295.3 145.3,315.0 142,330 C138.7,345.0 136.5,359.0 132,370 C127.5,381.0 121.2,394.0 115,396 C108.8,398.0 100.8,393.0 95,382 C89.2,371.0 83.3,348.7 80,330 C76.7,311.3 75.3,291.7 75,270 C74.7,248.3 76.3,218.3 78,200 C79.7,181.7 78.0,169.2 85,160 Z" fill="#e3868a" fill-opacity="1.0"/><path d="M88,232 C91.7,221.2 103.0,223.7 110,225 C117.0,226.3 125.8,230.8 130,240 C134.2,249.2 135.8,269.2 135,280 C134.2,290.8 130.8,300.0 125,305 C119.2,310.0 106.2,312.5 100,310 C93.8,307.5 90.0,303.0 88,290 C86.0,277.0 84.3,242.8 88,232 Z" fill="#e04448" fill-opacity="0.9"/><path d="M150,200 C157.0,186.7 175.0,185.8 190,180 C205.0,174.2 223.3,170.0 240,165 C256.7,160.0 275.0,154.2 290,150 C305.0,145.8 318.3,144.2 330,140 C341.7,135.8 351.7,129.2 360,125 C368.3,120.8 373.3,114.2 380,115 C386.7,115.8 395.0,122.5 400,130 C405.0,137.5 405.8,150.0 410,160 C414.2,170.0 421.7,180.0 425,190 C428.3,200.0 432.5,211.7 430,220 C427.5,228.3 420.0,234.2 410,240 C400.0,245.8 385.0,250.8 370,255 C355.0,259.2 335.0,264.2 320,265 C305.0,265.8 291.7,259.2 280,260 C268.3,260.8 258.3,263.3 250,270 C241.7,276.7 235.8,286.7 230,300 C224.2,313.3 218.3,333.3 215,350 C211.7,366.7 212.5,385.0 210,400 C207.5,415.0 205.0,431.7 200,440 C195.0,448.3 186.7,450.0 180,450 C173.3,450.0 165.3,448.3 160,440 C154.7,431.7 150.5,418.3 148,400 C145.5,381.7 145.0,353.3 145,330 C145.0,306.7 147.2,281.7 148,260 C148.8,238.3 143.0,213.3 150,200 Z" fill="#6c6ce0" fill-opacity="1.0"/><path d="M152,290 C157.5,280.0 171.2,278.3 180,280 C188.8,281.7 199.7,288.3 205,300 C210.3,311.7 211.2,333.3 212,350 C212.8,366.7 212.0,385.0 210,400 C208.0,415.0 205.0,431.7 200,440 C195.0,448.3 186.7,450.0 180,450 C173.3,450.0 165.3,448.3 160,440 C154.7,431.7 150.2,416.7 148,400 C145.8,383.3 146.3,358.3 147,340 C147.7,321.7 146.5,300.0 152,290 Z" fill="#3c3ce2" fill-opacity="0.85"/><path d="M260,210 C265.8,200.8 285.0,198.3 300,195 C315.0,191.7 334.2,189.2 350,190 C365.8,190.8 384.2,194.2 395,200 C405.8,205.8 415.0,217.5 415,225 C415.0,232.5 405.8,239.5 395,245 C384.2,250.5 365.8,255.2 350,258 C334.2,260.8 314.2,263.3 300,262 C285.8,260.7 271.7,258.7 265,250 C258.3,241.3 254.2,219.2 260,210 Z" fill="#3c3ce2" fill-opacity="0.8"/><path d="M160,205 C165.0,195.8 185.0,190.8 200,185 C215.0,179.2 233.3,174.5 250,170 C266.7,165.5 285.0,161.7 300,158 C315.0,154.3 328.3,151.8 340,148 C351.7,144.2 362.5,134.7 370,135 C377.5,135.3 385.0,142.5 385,150 C385.0,157.5 379.2,172.5 370,180 C360.8,187.5 345.0,190.8 330,195 C315.0,199.2 295.0,201.7 280,205 C265.0,208.3 253.3,211.7 240,215 C226.7,218.3 211.7,220.8 200,225 C188.3,229.2 176.7,243.3 170,240 C163.3,236.7 155.0,214.2 160,205 Z" fill="#9070c0" fill-opacity="0.45"/><path d="M200,290 C205.3,274.2 220.0,271.7 230,265 C240.0,258.3 248.3,253.3 260,250 C271.7,246.7 286.7,245.0 300,245 C313.3,245.0 326.7,250.8 340,250 C353.3,249.2 366.7,245.8 380,240 C393.3,234.2 410.0,223.3 420,215 C430.0,206.7 433.3,199.2 440,190 C446.7,180.8 453.3,164.2 460,160 C466.7,155.8 474.2,158.3 480,165 C485.8,171.7 491.7,184.2 495,200 C498.3,215.8 499.5,241.7 500,260 C500.5,278.3 499.7,296.7 498,310 C496.3,323.3 494.7,331.7 490,340 C485.3,348.3 478.3,354.2 470,360 C461.7,365.8 451.7,370.0 440,375 C428.3,380.0 413.3,385.8 400,390 C386.7,394.2 373.3,395.0 360,400 C346.7,405.0 331.7,413.3 320,420 C308.3,426.7 300.0,434.2 290,440 C280.0,445.8 270.0,450.7 260,455 C250.0,459.3 238.3,466.0 230,466 C221.7,466.0 214.7,462.7 210,455 C205.3,447.3 204.0,435.8 202,420 C200.0,404.2 198.3,381.7 198,360 C197.7,338.3 194.7,305.8 200,290 Z" fill="#dc7a80" fill-opacity="0.9"/><path d="M250,280 C260.0,270.3 283.3,265.0 300,262 C316.7,259.0 333.3,264.0 350,262 C366.7,260.0 386.7,248.7 400,250 C413.3,251.3 426.7,258.3 430,270 C433.3,281.7 428.3,306.7 420,320 C411.7,333.3 395.0,341.7 380,350 C365.0,358.3 346.7,365.0 330,370 C313.3,375.0 293.3,381.7 280,380 C266.7,378.3 256.7,370.0 250,360 C243.3,350.0 240.0,333.3 240,320 C240.0,306.7 240.0,289.7 250,280 Z" fill="#b85a80" fill-opacity="0.5"/><path d="M245,350 C249.7,342.5 261.7,343.3 270,345 C278.3,346.7 290.3,350.8 295,360 C299.7,369.2 298.8,388.3 298,400 C297.2,411.7 295.5,423.3 290,430 C284.5,436.7 272.0,440.8 265,440 C258.0,439.2 251.8,433.3 248,425 C244.2,416.7 242.5,402.5 242,390 C241.5,377.5 240.3,357.5 245,350 Z" fill="#e03c44" fill-opacity="0.9"/><path d="M365,310 C369.7,302.5 382.5,299.2 390,300 C397.5,300.8 406.3,307.5 410,315 C413.7,322.5 414.0,335.8 412,345 C410.0,354.2 404.2,365.5 398,370 C391.8,374.5 381.0,376.2 375,372 C369.0,367.8 363.7,355.3 362,345 C360.3,334.7 360.3,317.5 365,310 Z" fill="#e03c44" fill-opacity="0.9"/><path d="M455,260 C459.2,252.5 469.2,248.3 475,250 C480.8,251.7 487.2,260.0 490,270 C492.8,280.0 494.0,300.0 492,310 C490.0,320.0 483.3,327.5 478,330 C472.7,332.5 464.7,330.8 460,325 C455.3,319.2 450.8,305.8 450,295 C449.2,284.2 450.8,267.5 455,260 Z" fill="#e03c44" fill-opacity="0.85"/></g></g>
<g fill="none" stroke="#c8c8c8" stroke-width="0.6"><path d="M47.8,432.2 L131.0,403.0 L162.0,423.0 L78.8,452.2 Z M78.8,452.2 L78.9,493.0 M49.5,470.2 L78.9,493.0 L161.3,458.0 M131.0,438.0 L161.3,458.0"/><path d="M47.8,432.2 L49.5,470.2 M162.0,423.0 L161.3,458.0" stroke-dasharray="3 1.2"/><path d="M131.0,403.0 L131.0,438.0 M49.5,470.2 L131.0,438.0" stroke="#dadada"/></g>
<g fill="none" stroke="#c8c8c8" stroke-width="0.6"><path d="M84,454.2 L126,439.4 M65.5,436 L70,433.8 L78,438 M65.5,436 V448 M131,412 V405 L135,403 M135,403 L144,408 V415"/></g>
<g filter="url(#sb)"><g transform="translate(40,400) scale(0.18979)"><path d="M62,282 C63.7,280.3 70.3,285.3 75,290 C79.7,294.7 85.8,303.3 90,310 C94.2,316.7 97.0,322.5 100,330 C103.0,337.5 107.7,348.7 108,355 C108.3,361.3 105.0,368.8 102,368 C99.0,367.2 94.5,358.0 90,350 C85.5,342.0 79.2,328.3 75,320 C70.8,311.7 67.2,306.3 65,300 C62.8,293.7 60.3,283.7 62,282 Z" fill="#e07272" fill-opacity="0.9"/><path d="M130,240 C134.2,232.5 142.5,224.7 150,220 C157.5,215.3 165.8,211.7 175,212 C184.2,212.3 196.2,217.3 205,222 C213.8,226.7 222.5,232.0 228,240 C233.5,248.0 236.0,260.0 238,270 C240.0,280.0 238.8,290.0 240,300 C241.2,310.0 243.3,320.0 245,330 C246.7,340.0 250.8,351.7 250,360 C249.2,368.3 245.8,375.0 240,380 C234.2,385.0 222.5,386.7 215,390 C207.5,393.3 202.5,396.7 195,400 C187.5,403.3 179.2,408.3 170,410 C160.8,411.7 147.0,413.3 140,410 C133.0,406.7 130.5,400.0 128,390 C125.5,380.0 126.0,365.0 125,350 C124.0,335.0 122.0,314.2 122,300 C122.0,285.8 123.7,275.0 125,265 C126.3,255.0 125.8,247.5 130,240 Z" fill="#6868dc" fill-opacity="1.0"/><path d="M140,300 C145.0,286.7 160.0,290.0 170,290 C180.0,290.0 190.8,293.3 200,300 C209.2,306.7 221.7,319.2 225,330 C228.3,340.8 225.0,355.8 220,365 C215.0,374.2 205.0,380.8 195,385 C185.0,389.2 169.2,392.5 160,390 C150.8,387.5 143.3,385.0 140,370 C136.7,355.0 135.0,313.3 140,300 Z" fill="#4040dc" fill-opacity="0.85"/><path d="M165,385 C167.5,379.5 174.2,376.2 180,375 C185.8,373.8 195.0,374.7 200,378 C205.0,381.3 210.8,389.7 210,395 C209.2,400.3 200.0,406.2 195,410 C190.0,413.8 185.0,418.3 180,418 C175.0,417.7 167.5,413.5 165,408 C162.5,402.5 162.5,390.5 165,385 Z" fill="#e06068" fill-opacity="1.0"/><path d="M455,110 C458.3,99.2 467.5,97.0 475,95 C482.5,93.0 492.5,98.5 500,98 C507.5,97.5 513.3,91.7 520,92 C526.7,92.3 534.2,93.7 540,100 C545.8,106.3 551.7,118.3 555,130 C558.3,141.7 559.2,156.7 560,170 C560.8,183.3 561.3,196.7 560,210 C558.7,223.3 557.0,239.2 552,250 C547.0,260.8 538.7,270.3 530,275 C521.3,279.7 509.2,278.8 500,278 C490.8,277.2 481.7,274.7 475,270 C468.3,265.3 463.3,260.0 460,250 C456.7,240.0 455.8,225.0 455,210 C454.2,195.0 455.0,176.7 455,160 C455.0,143.3 451.7,120.8 455,110 Z" fill="#6868dc" fill-opacity="1.0"/><path d="M470,150 C475.3,141.7 488.3,138.3 500,140 C511.7,141.7 530.3,151.7 540,160 C549.7,168.3 556.3,178.3 558,190 C559.7,201.7 555.5,220.0 550,230 C544.5,240.0 534.2,247.0 525,250 C515.8,253.0 503.3,252.2 495,248 C486.7,243.8 479.5,234.7 475,225 C470.5,215.3 468.8,202.5 468,190 C467.2,177.5 464.7,158.3 470,150 Z" fill="#4040dc" fill-opacity="0.85"/><circle cx="598" cy="212" r="3" fill="#e05050"/></g></g>
<g fill="none" stroke="#c8c8c8" stroke-width="0.6"><path d="M228.8,432.7 L312.0,403.5 L343.0,423.5 L259.8,452.7 Z M259.8,452.7 L259.9,493.5 M230.5,470.7 L259.9,493.5 L342.3,458.5 M312.0,438.5 L342.3,458.5"/><path d="M228.8,432.7 L230.5,470.7 M343.0,423.5 L342.3,458.5" stroke-dasharray="3 1.2"/><path d="M312.0,403.5 L312.0,438.5 M230.5,470.7 L312.0,438.5" stroke="#dadada"/></g>
<g fill="none" stroke="#c8c8c8" stroke-width="0.6" transform="translate(181,0.5)"><path d="M84,454.2 L126,439.4 M65.5,436 L70,433.8 L78,438 M65.5,436 V448 M131,412 V405 L135,403 M135,403 L144,408 V415"/></g>
<g filter="url(#sb)"><g transform="translate(220,400) scale(0.18979)"><path d="M70,225 C75.0,214.7 85.8,218.8 95,218 C104.2,217.2 117.5,218.0 125,220 C132.5,222.0 137.5,220.0 140,230 C142.5,240.0 141.7,263.3 140,280 C138.3,296.7 134.2,315.8 130,330 C125.8,344.2 120.0,357.0 115,365 C110.0,373.0 105.0,378.0 100,378 C95.0,378.0 89.7,373.0 85,365 C80.3,357.0 75.3,344.2 72,330 C68.7,315.8 65.3,297.5 65,280 C64.7,262.5 65.0,235.3 70,225 Z" fill="#e07c80" fill-opacity="1.0"/><path d="M140,225 C146.2,217.0 155.8,214.5 165,212 C174.2,209.5 185.0,208.7 195,210 C205.0,211.3 216.7,215.0 225,220 C233.3,225.0 240.8,231.7 245,240 C249.2,248.3 248.8,258.3 250,270 C251.2,281.7 252.8,298.3 252,310 C251.2,321.7 248.7,330.0 245,340 C241.3,350.0 235.8,360.0 230,370 C224.2,380.0 218.3,391.7 210,400 C201.7,408.3 190.0,415.8 180,420 C170.0,424.2 158.3,426.7 150,425 C141.7,423.3 134.2,419.2 130,410 C125.8,400.8 125.8,386.7 125,370 C124.2,353.3 124.5,328.3 125,310 C125.5,291.7 125.5,274.2 128,260 C130.5,245.8 133.8,233.0 140,225 Z" fill="#6868dc" fill-opacity="1.0"/><path d="M135,300 C140.0,290.0 150.8,290.0 160,290 C169.2,290.0 183.3,291.7 190,300 C196.7,308.3 200.8,326.7 200,340 C199.2,353.3 191.7,370.0 185,380 C178.3,390.0 167.5,398.3 160,400 C152.5,401.7 145.0,398.3 140,390 C135.0,381.7 130.8,365.0 130,350 C129.2,335.0 130.0,310.0 135,300 Z" fill="#4040dc" fill-opacity="0.85"/><path d="M170,360 C174.5,348.3 186.7,337.5 195,330 C203.3,322.5 210.8,316.7 220,315 C229.2,313.3 240.0,318.3 250,320 C260.0,321.7 270.0,323.3 280,325 C290.0,326.7 300.8,326.7 310,330 C319.2,333.3 331.7,338.3 335,345 C338.3,351.7 335.8,362.5 330,370 C324.2,377.5 311.7,383.3 300,390 C288.3,396.7 272.5,403.3 260,410 C247.5,416.7 235.8,425.0 225,430 C214.2,435.0 203.3,440.0 195,440 C186.7,440.0 179.5,436.7 175,430 C170.5,423.3 168.8,411.7 168,400 C167.2,388.3 165.5,371.7 170,360 Z" fill="#dc7a80" fill-opacity="0.92"/><path d="M200,340 C205.8,331.7 220.0,325.8 230,325 C240.0,324.2 254.2,327.5 260,335 C265.8,342.5 268.3,360.8 265,370 C261.7,379.2 249.2,385.8 240,390 C230.8,394.2 217.5,397.5 210,395 C202.5,392.5 196.7,384.2 195,375 C193.3,365.8 194.2,348.3 200,340 Z" fill="#b85070" fill-opacity="0.6"/><path d="M385,150 C390.0,141.2 408.3,134.2 420,125 C431.7,115.8 443.3,102.8 455,95 C466.7,87.2 481.7,78.0 490,78 C498.3,78.0 507.5,84.7 505,95 C502.5,105.3 481.7,126.7 475,140 C468.3,153.3 470.8,167.0 465,175 C459.2,183.0 449.2,185.2 440,188 C430.8,190.8 418.3,193.7 410,192 C401.7,190.3 394.2,185.0 390,178 C385.8,171.0 380.0,158.8 385,150 Z" fill="#e07c80" fill-opacity="1.0"/><path d="M460,110 C465.0,100.8 476.7,98.3 485,95 C493.3,91.7 501.7,89.2 510,90 C518.3,90.8 527.5,95.0 535,100 C542.5,105.0 550.0,111.7 555,120 C560.0,128.3 562.5,138.3 565,150 C567.5,161.7 570.8,176.7 570,190 C569.2,203.3 564.2,217.5 560,230 C555.8,242.5 552.5,256.7 545,265 C537.5,273.3 525.0,277.2 515,280 C505.0,282.8 494.2,282.8 485,282 C475.8,281.2 465.8,280.3 460,275 C454.2,269.7 451.7,262.5 450,250 C448.3,237.5 449.2,216.7 450,200 C450.8,183.3 453.3,165.0 455,150 C456.7,135.0 455.0,119.2 460,110 Z" fill="#6868dc" fill-opacity="1.0"/><path d="M475,140 C482.0,130.0 498.3,128.3 510,130 C521.7,131.7 536.3,140.8 545,150 C553.7,159.2 561.2,172.5 562,185 C562.8,197.5 556.2,214.2 550,225 C543.8,235.8 534.2,245.5 525,250 C515.8,254.5 503.3,255.3 495,252 C486.7,248.7 479.5,240.3 475,230 C470.5,219.7 468.0,205.0 468,190 C468.0,175.0 468.0,150.0 475,140 Z" fill="#4040dc" fill-opacity="0.85"/><path d="M540,220 C545.8,207.5 556.7,202.5 565,195 C573.3,187.5 581.7,180.8 590,175 C598.3,169.2 608.0,161.7 615,160 C622.0,158.3 628.2,158.3 632,165 C635.8,171.7 637.5,187.5 638,200 C638.5,212.5 638.0,229.2 635,240 C632.0,250.8 626.7,259.2 620,265 C613.3,270.8 604.2,272.5 595,275 C585.8,277.5 574.2,278.3 565,280 C555.8,281.7 545.8,286.7 540,285 C534.2,283.3 530.0,280.8 530,270 C530.0,259.2 534.2,232.5 540,220 Z" fill="#e07c80" fill-opacity="0.92"/></g></g>
<g fill="none" stroke="#c8c8c8" stroke-width="0.6"><path d="M410.3,432.7 L493.5,403.5 L524.5,423.5 L441.3,452.7 Z M441.3,452.7 L441.4,493.5 M412.0,470.7 L441.4,493.5 L523.8,458.5 M493.5,438.5 L523.8,458.5"/><path d="M410.3,432.7 L412.0,470.7 M524.5,423.5 L523.8,458.5" stroke-dasharray="3 1.2"/><path d="M493.5,403.5 L493.5,438.5 M412.0,470.7 L493.5,438.5" stroke="#dadada"/></g>
<g fill="none" stroke="#c8c8c8" stroke-width="0.6" transform="translate(362.5,0.5)"><path d="M84,454.2 L126,439.4 M65.5,436 L70,433.8 L78,438 M65.5,436 V448 M131,412 V405 L135,403 M135,403 L144,408 V415"/></g>
<g filter="url(#sb)"><g transform="translate(400,400) scale(0.18979)"><path d="M70,215 C75.3,203.3 89.2,203.3 100,200 C110.8,196.7 126.7,193.3 135,195 C143.3,196.7 148.3,199.2 150,210 C151.7,220.8 147.5,243.3 145,260 C142.5,276.7 139.2,294.2 135,310 C130.8,325.8 125.0,344.7 120,355 C115.0,365.3 110.3,371.2 105,372 C99.7,372.8 93.0,368.7 88,360 C83.0,351.3 78.3,335.0 75,320 C71.7,305.0 68.8,287.5 68,270 C67.2,252.5 64.7,226.7 70,215 Z" fill="#e08286" fill-opacity="1.0"/><path d="M75,260 C77.8,252.5 89.2,253.3 95,255 C100.8,256.7 107.8,262.5 110,270 C112.2,277.5 110.5,293.3 108,300 C105.5,306.7 100.0,310.0 95,310 C90.0,310.0 81.3,308.3 78,300 C74.7,291.7 72.2,267.5 75,260 Z" fill="#e04448" fill-opacity="0.85"/><path d="M320,200 C320.0,192.5 331.7,181.7 340,175 C348.3,168.3 358.3,165.8 370,160 C381.7,154.2 396.7,148.3 410,140 C423.3,131.7 438.3,123.3 450,110 C461.7,96.7 472.5,66.7 480,60 C487.5,53.3 491.7,63.3 495,70 C498.3,76.7 500.8,88.3 500,100 C499.2,111.7 493.3,126.7 490,140 C486.7,153.3 485.0,168.3 480,180 C475.0,191.7 470.0,203.3 460,210 C450.0,216.7 433.3,218.0 420,220 C406.7,222.0 393.3,222.0 380,222 C366.7,222.0 350.0,223.7 340,220 C330.0,216.3 320.0,207.5 320,200 Z" fill="#e08286" fill-opacity="1.0"/><path d="M240,215 C240.8,200.0 259.2,195.0 265,195 C270.8,195.0 275.5,207.5 275,215 C274.5,222.5 259.5,233.8 262,240 C264.5,246.2 277.0,248.3 290,252 C303.0,255.7 324.2,257.7 340,262 C355.8,266.3 372.5,271.7 385,278 C397.5,284.3 409.5,293.3 415,300 C420.5,306.7 421.3,314.3 418,318 C414.7,321.7 406.3,323.0 395,322 C383.7,321.0 365.8,315.7 350,312 C334.2,308.3 315.0,304.5 300,300 C285.0,295.5 270.0,299.2 260,285 C250.0,270.8 239.2,230.0 240,215 Z" fill="#e08286" fill-opacity="1.0"/><circle cx="292" cy="205" r="5" fill="#e08286"/><circle cx="318" cy="188" r="4" fill="#e08286"/><path d="M140,225 C145.8,217.2 155.0,211.3 165,208 C175.0,204.7 188.3,203.8 200,205 C211.7,206.2 225.0,210.0 235,215 C245.0,220.0 255.0,225.8 260,235 C265.0,244.2 264.7,259.2 265,270 C265.3,280.8 264.5,290.0 262,300 C259.5,310.0 254.5,320.0 250,330 C245.5,340.0 241.7,348.3 235,360 C228.3,371.7 219.2,390.0 210,400 C200.8,410.0 190.0,416.7 180,420 C170.0,423.3 158.3,423.3 150,420 C141.7,416.7 134.2,410.0 130,400 C125.8,390.0 125.8,376.7 125,360 C124.2,343.3 124.2,317.5 125,300 C125.8,282.5 127.5,267.5 130,255 C132.5,242.5 134.2,232.8 140,225 Z" fill="#6868dc" fill-opacity="1.0"/><path d="M135,290 C140.0,278.3 150.8,279.2 160,280 C169.2,280.8 183.3,285.0 190,295 C196.7,305.0 200.8,325.8 200,340 C199.2,354.2 191.7,370.0 185,380 C178.3,390.0 167.5,398.3 160,400 C152.5,401.7 145.0,398.3 140,390 C135.0,381.7 130.8,366.7 130,350 C129.2,333.3 130.0,301.7 135,290 Z" fill="#4040dc" fill-opacity="0.85"/><path d="M180,320 C184.7,305.0 191.7,297.5 200,290 C208.3,282.5 218.3,279.2 230,275 C241.7,270.8 256.7,266.7 270,265 C283.3,263.3 296.7,263.3 310,265 C323.3,266.7 336.7,270.8 350,275 C363.3,279.2 379.2,284.2 390,290 C400.8,295.8 411.7,303.3 415,310 C418.3,316.7 415.8,324.2 410,330 C404.2,335.8 391.7,339.2 380,345 C368.3,350.8 353.3,357.5 340,365 C326.7,372.5 313.3,382.5 300,390 C286.7,397.5 273.3,403.3 260,410 C246.7,416.7 231.7,425.0 220,430 C208.3,435.0 197.5,441.7 190,440 C182.5,438.3 178.0,430.0 175,420 C172.0,410.0 171.2,396.7 172,380 C172.8,363.3 175.3,335.0 180,320 Z" fill="#dc7a80" fill-opacity="0.92"/><path d="M185,310 C190.8,295.0 204.2,293.3 215,290 C225.8,286.7 242.2,283.3 250,290 C257.8,296.7 262.0,315.0 262,330 C262.0,345.0 256.2,366.7 250,380 C243.8,393.3 234.2,404.2 225,410 C215.8,415.8 202.5,420.0 195,415 C187.5,410.0 181.7,397.5 180,380 C178.3,362.5 179.2,325.0 185,310 Z" fill="#b85070" fill-opacity="0.45"/><path d="M210,360 C214.2,351.7 226.7,350.0 235,350 C243.3,350.0 255.0,353.3 260,360 C265.0,366.7 266.7,381.7 265,390 C263.3,398.3 256.7,405.8 250,410 C243.3,414.2 231.7,416.7 225,415 C218.3,413.3 212.5,409.2 210,400 C207.5,390.8 205.8,368.3 210,360 Z" fill="#e03c44" fill-opacity="0.9"/><path d="M460,110 C466.3,101.7 480.0,94.2 490,90 C500.0,85.8 510.0,84.2 520,85 C530.0,85.8 541.7,90.0 550,95 C558.3,100.0 565.0,105.8 570,115 C575.0,124.2 578.3,137.5 580,150 C581.7,162.5 582.5,176.7 580,190 C577.5,203.3 571.7,219.2 565,230 C558.3,240.8 549.2,248.3 540,255 C530.8,261.7 520.0,265.8 510,270 C500.0,274.2 488.3,280.0 480,280 C471.7,280.0 465.0,276.7 460,270 C455.0,263.3 451.7,253.3 450,240 C448.3,226.7 449.7,206.7 450,190 C450.3,173.3 450.3,153.3 452,140 C453.7,126.7 453.7,118.3 460,110 Z" fill="#6868dc" fill-opacity="1.0"/><path d="M475,140 C480.8,130.0 493.3,129.2 505,130 C516.7,130.8 534.5,137.5 545,145 C555.5,152.5 565.5,164.2 568,175 C570.5,185.8 565.5,200.0 560,210 C554.5,220.0 544.2,229.2 535,235 C525.8,240.8 514.2,245.8 505,245 C495.8,244.2 485.8,239.2 480,230 C474.2,220.8 470.8,205.0 470,190 C469.2,175.0 469.2,150.0 475,140 Z" fill="#4040dc" fill-opacity="0.85"/><path d="M480,250 C488.0,245.0 506.7,245.0 520,240 C533.3,235.0 548.3,231.7 560,220 C571.7,208.3 581.7,183.3 590,170 C598.3,156.7 603.3,146.7 610,140 C616.7,133.3 624.2,128.3 630,130 C635.8,131.7 641.7,138.3 645,150 C648.3,161.7 650.0,183.3 650,200 C650.0,216.7 649.2,235.8 645,250 C640.8,264.2 633.3,275.8 625,285 C616.7,294.2 605.8,300.0 595,305 C584.2,310.0 572.5,312.5 560,315 C547.5,317.5 531.7,320.0 520,320 C508.3,320.0 497.5,319.2 490,315 C482.5,310.8 478.0,302.5 475,295 C472.0,287.5 471.2,277.5 472,270 C472.8,262.5 472.0,255.0 480,250 Z" fill="#dc7a80" fill-opacity="0.92"/><path d="M620,220 C620.7,214.7 628.7,211.7 632,214 C635.3,216.3 640.7,228.7 640,234 C639.3,239.3 631.3,248.3 628,246 C624.7,243.7 619.3,225.3 620,220 Z" fill="#e03c44" fill-opacity="0.9"/></g></g>
<rect x="171.5" y="7.50" width="9" height="122.2" fill="none" stroke="#5e5e5e" stroke-width="1"/>
<rect x="171" y="7.00" width="10" height="4.60" fill="#a54848"/>
<rect x="171" y="28.90" width="10" height="4.80" fill="#f55555"/>
<rect x="171" y="51.30" width="10" height="4.60" fill="#ecc4c4"/>
<rect x="171" y="82.00" width="10" height="4.80" fill="#8787e8"/>
<rect x="171" y="104.00" width="10" height="4.90" fill="#5a5ae8"/>
<rect x="171" y="125.90" width="10" height="4.10" fill="#191982"/>
<text class="cb" x="183.2" y="11.60">0.08</text>
<text class="cb" x="183.2" y="35.30">0.05</text>
<text class="cb" x="183.2" y="57.50">0.02</text>
<text class="cb" x="183.2" y="88.30">-0.02</text>
<text class="cb" x="183.2" y="111.00">-0.05</text>
<text class="cb" x="183.2" y="132.50">-0.08</text>
<text class="mm" x="170.5" y="148.70">Max= 0.02</text>
<text class="mm" x="170.5" y="162.30">Min= -0.08</text>
<text class="tl" x="61.4" y="14.5">t=2s</text>
<rect x="352.5" y="7.50" width="9" height="122.2" fill="none" stroke="#5e5e5e" stroke-width="1"/>
<rect x="352" y="7.00" width="10" height="4.60" fill="#a54848"/>
<rect x="352" y="28.90" width="10" height="4.80" fill="#f55555"/>
<rect x="352" y="51.30" width="10" height="4.60" fill="#ecc4c4"/>
<rect x="352" y="82.00" width="10" height="4.80" fill="#8787e8"/>
<rect x="352" y="104.00" width="10" height="4.90" fill="#5a5ae8"/>
<rect x="352" y="125.90" width="10" height="4.10" fill="#191982"/>
<text class="cb" x="364.2" y="11.60">0.08</text>
<text class="cb" x="364.2" y="35.30">0.05</text>
<text class="cb" x="364.2" y="57.50">0.02</text>
<text class="cb" x="364.2" y="88.30">-0.02</text>
<text class="cb" x="364.2" y="111.00">-0.05</text>
<text class="cb" x="364.2" y="132.50">-0.08</text>
<text class="mm" x="351.5" y="148.70">Max= 0.05</text>
<text class="mm" x="351.5" y="162.30">Min= -0.08</text>
<text class="tl" x="240" y="14.5">t=4s</text>
<rect x="533.5" y="7.50" width="9" height="122.2" fill="none" stroke="#5e5e5e" stroke-width="1"/>
<rect x="533" y="7.00" width="10" height="4.60" fill="#a54848"/>
<rect x="533" y="28.90" width="10" height="4.80" fill="#f55555"/>
<rect x="533" y="51.30" width="10" height="4.60" fill="#ecc4c4"/>
<rect x="533" y="82.00" width="10" height="4.80" fill="#8787e8"/>
<rect x="533" y="104.00" width="10" height="4.90" fill="#5a5ae8"/>
<rect x="533" y="125.90" width="10" height="4.10" fill="#191982"/>
<text class="cb" x="545.2" y="11.60">0.08</text>
<text class="cb" x="545.2" y="35.30">0.05</text>
<text class="cb" x="545.2" y="57.50">0.02</text>
<text class="cb" x="545.2" y="88.30">-0.02</text>
<text class="cb" x="545.2" y="111.00">-0.05</text>
<text class="cb" x="545.2" y="132.50">-0.08</text>
<text class="mm" x="532.5" y="148.70">Max= 0.05</text>
<text class="mm" x="532.5" y="162.30">Min= -0.08</text>
<text class="tl" x="413.8" y="14.5">t=6s</text>
<text class="pl" x="2" y="14.3">(a)</text>
<rect x="171.5" y="193.80" width="9" height="122.2" fill="none" stroke="#5e5e5e" stroke-width="1"/>
<rect x="171" y="193.30" width="10" height="4.60" fill="#a54848"/>
<rect x="171" y="215.20" width="10" height="4.80" fill="#f55555"/>
<rect x="171" y="237.60" width="10" height="4.60" fill="#ecc4c4"/>
<rect x="171" y="268.30" width="10" height="4.80" fill="#8787e8"/>
<rect x="171" y="290.30" width="10" height="4.90" fill="#5a5ae8"/>
<rect x="171" y="312.20" width="10" height="4.10" fill="#191982"/>
<text class="cb" x="183.2" y="197.90">0.08</text>
<text class="cb" x="183.2" y="221.60">0.05</text>
<text class="cb" x="183.2" y="243.80">0.02</text>
<text class="cb" x="183.2" y="274.60">-0.02</text>
<text class="cb" x="183.2" y="297.30">-0.05</text>
<text class="cb" x="183.2" y="318.80">-0.08</text>
<text class="mm" x="170.5" y="335.00">Max= 0.02</text>
<text class="mm" x="170.5" y="348.60">Min= -0.08</text>
<text class="tl" x="61.4" y="197.8">t=0.6s</text>
<rect x="352.5" y="193.80" width="9" height="122.2" fill="none" stroke="#5e5e5e" stroke-width="1"/>
<rect x="352" y="193.30" width="10" height="4.60" fill="#a54848"/>
<rect x="352" y="215.20" width="10" height="4.80" fill="#f55555"/>
<rect x="352" y="237.60" width="10" height="4.60" fill="#ecc4c4"/>
<rect x="352" y="268.30" width="10" height="4.80" fill="#8787e8"/>
<rect x="352" y="290.30" width="10" height="4.90" fill="#5a5ae8"/>
<rect x="352" y="312.20" width="10" height="4.10" fill="#191982"/>
<text class="cb" x="364.2" y="197.90">0.08</text>
<text class="cb" x="364.2" y="221.60">0.05</text>
<text class="cb" x="364.2" y="243.80">0.02</text>
<text class="cb" x="364.2" y="274.60">-0.02</text>
<text class="cb" x="364.2" y="297.30">-0.05</text>
<text class="cb" x="364.2" y="318.80">-0.08</text>
<text class="mm" x="351.5" y="335.00">Max= 0.02</text>
<text class="mm" x="351.5" y="348.60">Min= -0.08</text>
<text class="tl" x="240" y="197.8">t=1.2s</text>
<rect x="533.5" y="193.80" width="9" height="122.2" fill="none" stroke="#5e5e5e" stroke-width="1"/>
<rect x="533" y="193.30" width="10" height="4.60" fill="#a54848"/>
<rect x="533" y="215.20" width="10" height="4.80" fill="#f55555"/>
<rect x="533" y="237.60" width="10" height="4.60" fill="#ecc4c4"/>
<rect x="533" y="268.30" width="10" height="4.80" fill="#8787e8"/>
<rect x="533" y="290.30" width="10" height="4.90" fill="#5a5ae8"/>
<rect x="533" y="312.20" width="10" height="4.10" fill="#191982"/>
<text class="cb" x="545.2" y="197.90">0.08</text>
<text class="cb" x="545.2" y="221.60">0.05</text>
<text class="cb" x="545.2" y="243.80">0.02</text>
<text class="cb" x="545.2" y="274.60">-0.02</text>
<text class="cb" x="545.2" y="297.30">-0.05</text>
<text class="cb" x="545.2" y="318.80">-0.08</text>
<text class="mm" x="532.5" y="335.00">Max= 0.05</text>
<text class="mm" x="532.5" y="348.60">Min= -0.08</text>
<text class="tl" x="413.8" y="197.8">t=1.8s</text>
<text class="pl" x="1" y="197.0">(b)</text>
<rect x="171.5" y="380.50" width="9" height="122.2" fill="none" stroke="#5e5e5e" stroke-width="1"/>
<rect x="171" y="380.00" width="10" height="4.60" fill="#a54848"/>
<rect x="171" y="401.90" width="10" height="4.80" fill="#f55555"/>
<rect x="171" y="424.30" width="10" height="4.60" fill="#ecc4c4"/>
<rect x="171" y="455.00" width="10" height="4.80" fill="#8787e8"/>
<rect x="171" y="477.00" width="10" height="4.90" fill="#5a5ae8"/>
<rect x="171" y="498.90" width="10" height="4.10" fill="#191982"/>
<text class="cb" x="183.2" y="384.60">0.08</text>
<text class="cb" x="183.2" y="408.30">0.05</text>
<text class="cb" x="183.2" y="430.50">0.02</text>
<text class="cb" x="183.2" y="461.30">-0.02</text>
<text class="cb" x="183.2" y="484.00">-0.05</text>
<text class="cb" x="183.2" y="505.50">-0.08</text>
<text class="mm" x="170.5" y="521.70">Max= 0.02</text>
<text class="mm" x="170.5" y="535.30">Min= -0.08</text>
<text class="tl" x="61.8" y="398.2">t=0.6s</text>
<rect x="352.5" y="380.50" width="9" height="122.2" fill="none" stroke="#5e5e5e" stroke-width="1"/>
<rect x="352" y="380.00" width="10" height="4.60" fill="#a54848"/>
<rect x="352" y="401.90" width="10" height="4.80" fill="#f55555"/>
<rect x="352" y="424.30" width="10" height="4.60" fill="#ecc4c4"/>
<rect x="352" y="455.00" width="10" height="4.80" fill="#8787e8"/>
<rect x="352" y="477.00" width="10" height="4.90" fill="#5a5ae8"/>
<rect x="352" y="498.90" width="10" height="4.10" fill="#191982"/>
<text class="cb" x="364.2" y="384.60">0.08</text>
<text class="cb" x="364.2" y="408.30">0.05</text>
<text class="cb" x="364.2" y="430.50">0.02</text>
<text class="cb" x="364.2" y="461.30">-0.02</text>
<text class="cb" x="364.2" y="484.00">-0.05</text>
<text class="cb" x="364.2" y="505.50">-0.08</text>
<text class="mm" x="351.5" y="521.70">Max= 0.02</text>
<text class="mm" x="351.5" y="535.30">Min= -0.08</text>
<text class="tl" x="240" y="398.2">t=1.0s</text>
<rect x="533.5" y="380.50" width="9" height="122.2" fill="none" stroke="#5e5e5e" stroke-width="1"/>
<rect x="533" y="380.00" width="10" height="4.60" fill="#a54848"/>
<rect x="533" y="401.90" width="10" height="4.80" fill="#f55555"/>
<rect x="533" y="424.30" width="10" height="4.60" fill="#ecc4c4"/>
<rect x="533" y="455.00" width="10" height="4.80" fill="#8787e8"/>
<rect x="533" y="477.00" width="10" height="4.90" fill="#5a5ae8"/>
<rect x="533" y="498.90" width="10" height="4.10" fill="#191982"/>
<text class="cb" x="545.2" y="384.60">0.08</text>
<text class="cb" x="545.2" y="408.30">0.05</text>
<text class="cb" x="545.2" y="430.50">0.02</text>
<text class="cb" x="545.2" y="461.30">-0.02</text>
<text class="cb" x="545.2" y="484.00">-0.05</text>
<text class="cb" x="545.2" y="505.50">-0.08</text>
<text class="mm" x="532.5" y="521.70">Max= 0.05</text>
<text class="mm" x="532.5" y="535.30">Min= -0.08</text>
<text class="tl" x="413.8" y="398.2">t=1.4s</text>
<text class="pl" x="1" y="392.9">(c)</text>
<g stroke="#444" stroke-width="0.9" fill="none">
<line x1="643.9" y1="488.4" x2="643.9" y2="470.2"/>
<polyline points="641.2,474.6 643.9,470.2 646.6,474.6"/>
<line x1="643.9" y1="488.4" x2="629.4" y2="494.8"/>
<polyline points="632.6,490.8 629.4,494.8 634.4,495.9"/>
<line x1="643.9" y1="488.4" x2="656.5" y2="497.4"/>
<polyline points="651.6,497.7 656.5,497.4 654.5,492.6"/>
</g>
<text class="ax" x="638.5" y="464.6">Z</text>
<text class="ax" x="623.6" y="510.8">X</text>
<text class="ax" x="663.6" y="501">Y</text>
<text class="un" x="605" y="535.5" transform="translate(0,535.5) scale(1,1.06) translate(0,-535.5)">(Unit: m/s)</text>
</svg></body></html>
